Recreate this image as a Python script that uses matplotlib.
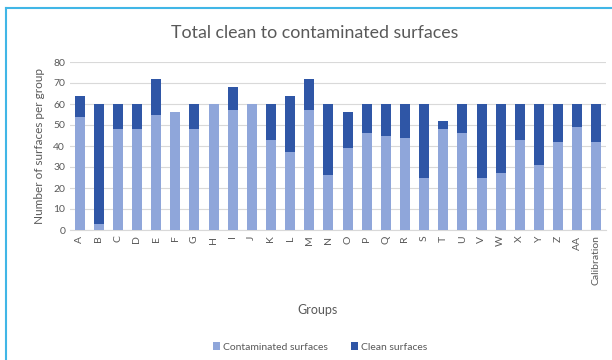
import matplotlib.pyplot as plt
import numpy as np

plt.rcParams['font.family'] = ['Lato', 'DejaVu Sans']

groups = ['A', 'B', 'C', 'D', 'E', 'F', 'G', 'H', 'I', 'J', 'K', 'L', 'M', 'N',
          'O', 'P', 'Q', 'R', 'S', 'T', 'U', 'V', 'W', 'X', 'Y', 'Z', 'AA', 'Calibration']
contaminated = [54, 3, 48, 48, 55, 56, 48, 60, 57, 60, 43, 37, 57, 26,
                39, 46, 45, 44, 25, 48, 46, 25, 27, 43, 31, 42, 49, 42]
clean = [10, 57, 12, 12, 17, 0, 12, 0, 11, 0, 17, 27, 15, 34,
         17, 14, 15, 16, 35, 4, 14, 35, 33, 17, 29, 18, 11, 18]

light = '#8fa6da'
dark = '#2f56a6'
txt = '#595959'

fig = plt.figure(figsize=(6.12, 3.6), dpi=100)
ax = fig.add_axes([70 / 612, 130 / 360, 536 / 612, 168 / 360])

x = np.arange(len(groups))
ax.bar(x, contaminated, width=0.52, color=light, label='Contaminated surfaces', zorder=3)
ax.bar(x, clean, width=0.52, bottom=contaminated, color=dark, label='Clean surfaces', zorder=3)

ax.set_xlim(-0.5, len(groups) - 0.5)
ax.set_ylim(0, 80)
ax.set_yticks(range(0, 81, 10))
ax.set_xticks(x)
ax.set_xticklabels(groups, rotation=90)
ax.tick_params(axis='both', length=0, labelsize=7.5, colors=txt)
ax.tick_params(axis='x', pad=4)
ax.grid(axis='y', color='#d9d9d9', linewidth=0.8, zorder=0)
for side in ['top', 'right', 'left']:
    ax.spines[side].set_visible(False)
ax.spines['bottom'].set_color('#d9d9d9')

ax.set_ylabel('Number of surfaces per group', fontsize=8.5, color=txt, labelpad=6)
fig.text(315 / 612, 1 - 33 / 360, 'Total clean to contaminated surfaces',
         ha='center', va='center', fontsize=12.8, color=txt)
fig.text(318 / 612, 1 - 310 / 360, 'Groups', ha='center', va='center',
         fontsize=9, color=txt)

fig.legend(loc='center', bbox_to_anchor=(320 / 612, 1 - 347 / 360), ncol=2,
           frameon=False, fontsize=7.5, labelcolor=txt, handlelength=0.7,
           handleheight=0.7, handletextpad=0.3, columnspacing=2.2)

# light blue frame along the top and left edges
fig.add_artist(plt.Line2D([6 / 612, 6 / 612], [0, 1 - 8 / 360], color='#41b6e6',
                          linewidth=1.5, transform=fig.transFigure))
fig.add_artist(plt.Line2D([6 / 612, 1], [1 - 8 / 360, 1 - 8 / 360], color='#41b6e6',
                          linewidth=1.5, transform=fig.transFigure))

fig.savefig('out.png', dpi=100, facecolor='white')
